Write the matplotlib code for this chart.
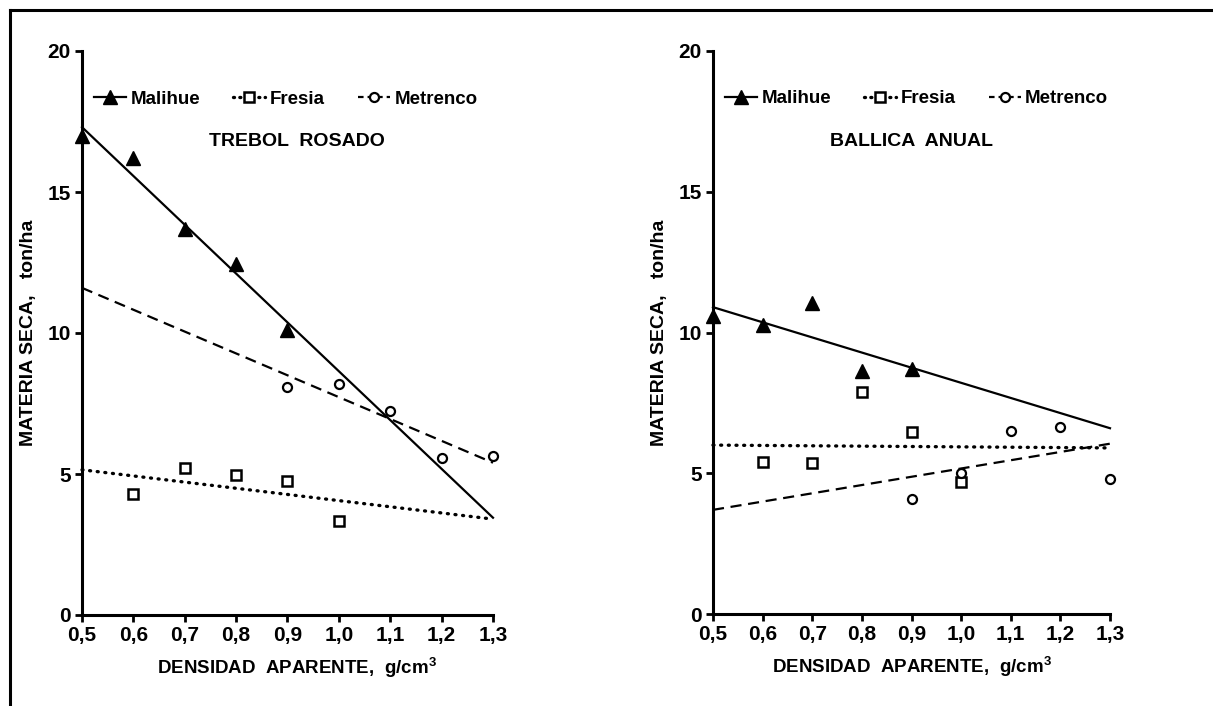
import matplotlib
matplotlib.use("Agg")
import matplotlib.pyplot as plt
from matplotlib.lines import Line2D
from matplotlib import font_manager

# ---------------- data ----------------
x_ticks = [0.5, 0.6, 0.7, 0.8, 0.9, 1.0, 1.1, 1.2, 1.3]
x_labels = ["0,5", "0,6", "0,7", "0,8", "0,9", "1,0", "1,1", "1,2", "1,3"]
y_ticks = [0, 5, 10, 15, 20]
y_labels = ["0", "5", "10", "15", "20"]
series = ["Malihue", "Fresia", "Metrenco"]
fit_x = [0.5, 1.3]

# TREBOL ROSADO
tr_malihue_x = [0.5, 0.6, 0.7, 0.8, 0.9]
tr_malihue_y = [17.0, 16.2, 13.7, 12.45, 10.1]
tr_fresia_x = [0.6, 0.7, 0.8, 0.9, 1.0]
tr_fresia_y = [4.3, 5.2, 4.95, 4.75, 3.35]
tr_metrenco_x = [0.9, 1.0, 1.1, 1.2, 1.3]
tr_metrenco_y = [8.1, 8.2, 7.25, 5.55, 5.65]
tr_fit_malihue = [17.3, 3.45]
tr_fit_fresia = [5.15, 3.4]
tr_fit_metrenco = [11.6, 5.4]

# BALLICA ANUAL
ba_malihue_x = [0.5, 0.6, 0.7, 0.8, 0.9]
ba_malihue_y = [10.6, 10.25, 11.05, 8.65, 8.7]
ba_fresia_x = [0.6, 0.7, 0.8, 0.9, 1.0]
ba_fresia_y = [5.4, 5.35, 7.9, 6.45, 4.7]
ba_metrenco_x = [0.9, 1.0, 1.1, 1.2, 1.3]
ba_metrenco_y = [4.1, 5.0, 6.5, 6.65, 4.8]
ba_fit_malihue = [10.9, 6.6]
ba_fit_fresia = [6.0, 5.9]
ba_fit_metrenco = [3.7, 6.05]

titles = ["TREBOL  ROSADO", "BALLICA  ANUAL"]
title_x = [0.524, 0.5]
xlabel_x = [0.523, 0.5]
ylabel_x = [-0.109, -0.113]
ylabel = "MATERIA SECA,   ton/ha"
xlabel = "DENSIDAD  APARENTE,  g/cm$^3$"

# ---------------- style ----------------
names = {f.name for f in font_manager.fontManager.ttflist}
fam = [f for f in ["Liberation Sans Narrow", "Liberation Sans", "DejaVu Sans"] if f in names]
plt.rcParams["font.family"] = fam
plt.rcParams["font.weight"] = "bold"
plt.rcParams["mathtext.fontset"] = "custom"
plt.rcParams["mathtext.rm"] = fam[0] + ":bold"
plt.rcParams["mathtext.default"] = "rm"

W, H = 1213, 706
fig = plt.figure(figsize=(W / 100, H / 100), dpi=100)

styles = {
    "Malihue": dict(ls="-", marker="^", ms=9.5, mfc="black", mec="black", mew=1.0),
    "Fresia": dict(ls=(0, (0.3, 2.0)), marker="s", ms=7.5, mfc="white", mec="black", mew=1.8),
    "Metrenco": dict(ls=(0, (5, 3)), marker="o", ms=6.5, mfc="white", mec="black", mew=1.6),
}
legend_ls = {"Malihue": "-", "Fresia": (0, (0.3, 1.6)), "Metrenco": (0, (2.5, 1.8))}
line_w = {"Malihue": 1.6, "Fresia": 2.4, "Metrenco": 1.6}

panels = [
    dict(ax=[82 / W, 1 - 615 / H, (493 - 82) / W, (615 - 51) / H],
         pts=[(tr_malihue_x, tr_malihue_y), (tr_fresia_x, tr_fresia_y), (tr_metrenco_x, tr_metrenco_y)],
         fits=[tr_fit_malihue, tr_fit_fresia, tr_fit_metrenco]),
    dict(ax=[713 / W, 1 - 614 / H, (1110 - 713) / W, (614 - 51) / H],
         pts=[(ba_malihue_x, ba_malihue_y), (ba_fresia_x, ba_fresia_y), (ba_metrenco_x, ba_metrenco_y)],
         fits=[ba_fit_malihue, ba_fit_fresia, ba_fit_metrenco]),
]

for i, p in enumerate(panels):
    ax = fig.add_axes(p["ax"])
    ax.set_xlim(0.5, 1.3)
    ax.set_ylim(0, 20)
    for s, (xs, ys), fy in zip(series, p["pts"], p["fits"]):
        st = styles[s]
        ax.plot(fit_x, fy, color="black", lw=line_w[s], ls=st["ls"], clip_on=False,
                dash_capstyle="round" if s == "Fresia" else "butt")
        ax.plot(xs, ys, ls="none", marker=st["marker"], ms=st["ms"], mfc=st["mfc"],
                mec=st["mec"], mew=st["mew"], clip_on=False, zorder=5)
    for sp in ["top", "right"]:
        ax.spines[sp].set_visible(False)
    for sp in ["left", "bottom"]:
        ax.spines[sp].set_linewidth(2.2)
    ax.set_xticks(x_ticks)
    ax.set_xticklabels(x_labels)
    ax.set_yticks(y_ticks)
    ax.set_yticklabels(y_labels)
    ax.tick_params(direction="out", length=5, width=2, labelsize=15, pad=3)
    for lab in ax.get_xticklabels() + ax.get_yticklabels():
        lab.set_fontweight("bold")
    ax.set_ylabel(ylabel, fontsize=14, fontweight="bold")
    ax.yaxis.set_label_coords(ylabel_x[i], 0.5)
    ax.set_xlabel(xlabel, fontsize=13.5, fontweight="bold", labelpad=8)
    ax.xaxis.label.set_x(xlabel_x[i])
    ax.text(title_x[i], 0.84, titles[i], transform=ax.transAxes, ha="center", va="center",
            fontsize=14, fontweight="bold")
    handles = []
    for s in series:
        st = dict(styles[s])
        st["ls"] = legend_ls[s]
        handles.append(Line2D([], [], color="black", lw=line_w[s],
                              dash_capstyle="round" if s == "Fresia" else "butt", **st))
    ax.legend(handles, series, loc="center left", bbox_to_anchor=(0.012, 0.915),
              ncol=3, frameon=False, handlelength=1.7, handletextpad=0.25,
              columnspacing=1.75, prop=dict(size=13.5, weight="bold"), borderaxespad=0.0)

# frame lines of the scanned page
fig.add_artist(Line2D([10 / W, 10 / W], [0, 1 - 10 / H], color="black", lw=2.2))
fig.add_artist(Line2D([10 / W, 1], [1 - 10 / H, 1 - 10 / H], color="black", lw=2.2))

fig.savefig("out.png", dpi=100)
